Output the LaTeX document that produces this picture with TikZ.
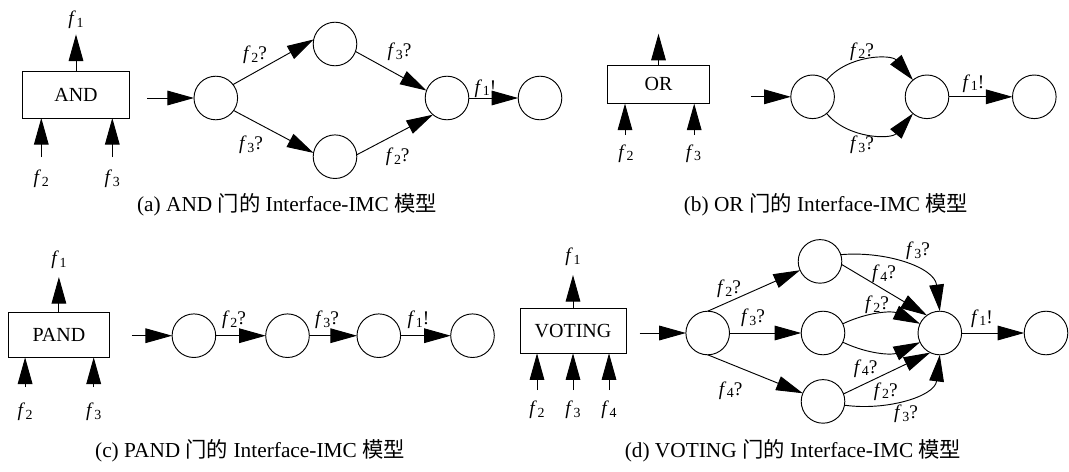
\documentclass[tikz,border=0pt]{standalone}
\usepackage{fontspec}
\setmainfont{Liberation Serif}
\newfontfamily\cjk{Noto Sans CJK SC}
\usetikzlibrary{arrows.meta}

% italic f with a lowered upright index
\newcommand{\fs}[1]{\textit{f}\kern0.03em\raisebox{-0.3ex}{\scalebox{0.72}{#1}}}

\begin{document}
\begin{tikzpicture}[x=0.75pt,y=-0.75pt,
  line width=0.7pt,
  every node/.style={inner sep=0pt,outer sep=0pt},
  gate/.style={draw,line width=0.7pt,font=\fontsize{15pt}{18pt}\selectfont},
  state/.style={draw,circle,line width=0.7pt,minimum size=32.7pt},
  lbl/.style={font=\fontsize{14.5pt}{17pt}\selectfont},
  captext/.style={font=\fontsize{16pt}{19pt}\selectfont},
  arr/.style={line width=0.7pt,-{Triangle[length=20pt 0 0,width=11pt 0 0]}}]
\useasboundingbox (0,0) rectangle (1069,471);

% ---------------- (a) AND ----------------
\node[gate,minimum width=80.3pt,minimum height=34.8pt] (and) at (76,94.8) {AND};
\coordinate (aT) at (76,34.4);
\coordinate (ai2) at (41.3,157);
\coordinate (ai3) at (112.3,157);
\draw[arr] (and.north) -- (aT);
\draw[arr] (ai2) -- (ai2 |- and.south);
\draw[arr] (ai3) -- (ai3 |- and.south);
\node[lbl] (aF1) at (76,20) {\fs{1}};
\node[lbl] (aF2) at (41.3,179) {\fs{2}};
\node[lbl] (aF3) at (112.3,179) {\fs{3}};

\coordinate (a0) at (147.4,98);
\node[state] (a1) at (215.8,98) {};
\node[state] (a2) at (335,44) {};
\node[state] (a3) at (335,156.7) {};
\node[state] (a4) at (447,98) {};
\node[state] (a5) at (540,98) {};
\draw[arr] (a0) -- (a1);
\draw[arr] (a1.38) -- (a2.168);
\draw[arr] (a1.-35) -- (a3.170);
\draw[arr] (a2.-20) -- (a4.160);
\draw[arr] (a3.5) -- (a4.-130);
\draw[arr] (a4) -- (a5);
\node[lbl] (la1) at (255,55) {\fs{2}?};
\node[lbl] (la2) at (399.5,51.6) {\fs{3}?};
\node[lbl] (la3) at (251,144.6) {\fs{3}?};
\node[lbl] (la4) at (397.7,156.7) {\fs{2}?};
\node[lbl] (la5) at (485.5,88.5) {\fs{1}!};
\node[captext] (capA) at (287,205) {(a) AND {\cjk 门的} Interface-IMC {\cjk 模型}};

% ---------------- (b) OR ----------------
\node[gate,minimum width=76.4pt,minimum height=28.9pt] (or) at (658.5,84.3) {OR};
\coordinate (bT) at (658.5,33.7);
\coordinate (bi2) at (625,135);
\coordinate (bi3) at (694.2,135);
\draw[arr] (or.north) -- (bT);
\draw[arr] (bi2) -- (bi2 |- or.south);
\draw[arr] (bi3) -- (bi3 |- or.south);
\node[lbl] (bF2) at (626,153.5) {\fs{2}};
\node[lbl] (bF3) at (693.5,153.5) {\fs{3}};

\coordinate (b0) at (750.9,96.8);
\node[state] (b1) at (812.6,96.8) {};
\node[state] (b2) at (927,96.8) {};
\node[state] (b3) at (1034.3,96.8) {};
\draw[arr] (b0) -- (b1);
\draw[arr] (b1) to[bend left=50] (b2);
\draw[arr] (b1) to[bend right=50] (b2);
\draw[arr] (b2) -- (b3);
\node[lbl] (lb1) at (862,51.5) {\fs{2}?};
\node[lbl] (lb2) at (862,145) {\fs{3}?};
\node[lbl] (lb3) at (973.5,83.5) {\fs{1}!};
\node[captext] (capB) at (826,205) {(b) OR {\cjk 门的} Interface-IMC {\cjk 模型}};

% ---------------- (c) PAND ----------------
\node[gate,minimum width=75.5pt,minimum height=33.5pt] (pand) at (58.9,335) {PAND};
\coordinate (cT) at (58.9,277);
\coordinate (ci2) at (25.1,387);
\coordinate (ci3) at (93.7,387);
\draw[arr] (pand.north) -- (cT);
\draw[arr] (ci2) -- (ci2 |- pand.south);
\draw[arr] (ci3) -- (ci3 |- pand.south);
\node[lbl] (cF1) at (58.9,260) {\fs{1}};
\node[lbl] (cF2) at (25.1,412) {\fs{2}};
\node[lbl] (cF3) at (93.7,412) {\fs{3}};

\coordinate (c0) at (131.9,335.7);
\node[state] (c1) at (193.9,335.7) {};
\node[state] (c2) at (287.5,335.7) {};
\node[state] (c3) at (378.8,335.7) {};
\node[state] (c4) at (472.5,335.7) {};
\draw[arr] (c0) -- (c1);
\draw[arr] (c1) -- (c2);
\draw[arr] (c2) -- (c3);
\draw[arr] (c3) -- (c4);
\node[lbl] (lc1) at (234,320) {\fs{2}?};
\node[lbl] (lc2) at (327,320) {\fs{3}?};
\node[lbl] (lc3) at (418.4,320) {\fs{1}!};
\node[captext] (capC) at (250,451) {(c) PAND {\cjk 门的} Interface-IMC {\cjk 模型}};

% ---------------- (d) VOTING ----------------
\node[gate,minimum width=79.5pt,minimum height=33.75pt] (vot) at (573,330.8) {VOTING};
\coordinate (dT) at (573,275);
\coordinate (di2) at (537,390);
\coordinate (di3) at (573,390);
\coordinate (di4) at (609,390);
\draw[arr] (vot.north) -- (dT);
\draw[arr] (di2) -- (di2 |- vot.south);
\draw[arr] (di3) -- (di3 |- vot.south);
\draw[arr] (di4) -- (di4 |- vot.south);
\node[lbl] (dF1) at (573,257) {\fs{1}};
\node[lbl] (dF2) at (537,410) {\fs{2}};
\node[lbl] (dF3) at (573,410) {\fs{3}};
\node[lbl] (dF4) at (609,410) {\fs{4}};

\coordinate (d0) at (639.5,333);
\node[state] (d1) at (707.7,333) {};
\node[state] (d2) at (820,261.4) {};
\node[state] (d3) at (823,333) {};
\node[state] (d4) at (823,401.4) {};
\node[state] (d5) at (939.8,333) {};
\node[state] (d6) at (1046,333) {};
\draw[arr] (d0) -- (d1);
\draw[arr] (d1.north) -- (d2);
\draw[arr] (d1) -- (d3);
\draw[arr] (d1.south) -- (d4);
\draw[arr] (d2.18) to[out=5,in=97] (d5.north);
\draw[arr] (d2.-8) -- (d5.126);
\draw[arr] (d3) to[bend left=25] (d5);
\draw[arr] (d3) to[bend right=25] (d5);
\draw[arr] (d4.20) -- (d5.-116);
\draw[arr] (d4.-10) to[out=-8,in=-97] (d5.south);
\draw[arr] (d5) -- (d6);
\node[lbl] (ld1) at (729,289) {\fs{2}?};
\node[lbl] (ld2) at (753,318) {\fs{3}?};
\node[lbl] (ld3) at (730.6,390.3) {\fs{4}?};
\node[lbl] (ld4) at (918,251) {\fs{3}?};
\node[lbl] (ld5) at (884,274) {\fs{4}?};
\node[lbl] (ld6) at (877,305) {\fs{2}?};
\node[lbl] (ld7) at (865.6,368.3) {\fs{4}?};
\node[lbl] (ld8) at (885.8,391.3) {\fs{2}?};
\node[lbl] (ld9) at (906,414) {\fs{3}?};
\node[lbl] (ld10) at (982,318.5) {\fs{1}!};
\node[captext] (capD) at (793,451) {(d) VOTING {\cjk 门的} Interface-IMC {\cjk 模型}};
\end{tikzpicture}
\end{document}
